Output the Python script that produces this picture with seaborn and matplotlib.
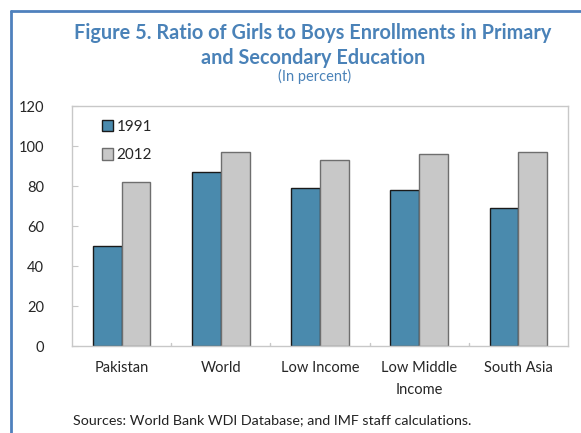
import pandas as pd
import numpy as np
import matplotlib
matplotlib.use("Agg")
import matplotlib.pyplot as plt
import seaborn as sns
from matplotlib.lines import Line2D
from matplotlib.patches import Patch

# data
regions = ["Pakistan", "World", "Low Income", "Low Middle\nIncome", "South Asia"]
ratio_1991 = [50, 87, 79, 78, 69]
ratio_2012 = [82, 97, 93, 96, 97]
years = ["1991", "2012"]
y_ticks = [0, 20, 40, 60, 80, 100, 120]

blue = "#4a8aad"
grey = "#c8c8c8"
title_col = "#4a82b8"

df = pd.DataFrame({
    "region": regions * 2,
    "year": [years[0]] * len(regions) + [years[1]] * len(regions),
    "ratio": ratio_1991 + ratio_2012,
})

sns.set_style("white")
plt.rcParams["font.family"] = ["Lato", "DejaVu Sans"]

fig = plt.figure(figsize=(5.81, 4.33), dpi=100)
ax = fig.add_axes([72 / 581, 1 - 346 / 433, 496 / 581, 240 / 433])

sns.barplot(data=df, x="region", y="ratio", hue="year", order=regions,
            hue_order=years, palette=[blue, grey], width=0.58,
            saturation=1, ax=ax, legend=False)

# edge colours: dark for 1991, mid grey for 2012
for i, bar in enumerate(ax.patches):
    if i < len(regions):
        bar.set_edgecolor("#1a1a1a")
    else:
        bar.set_edgecolor("#6e6e6e")
    bar.set_linewidth(1.0)

ax.set_ylim(0, 120)
ax.set_xlim(-0.5, len(regions) - 0.5)
ax.set_yticks(y_ticks)
ax.set_xlabel("")
ax.set_ylabel("")
for s in ax.spines.values():
    s.set_color("#c8c8c8")
    s.set_linewidth(1.0)

ax.tick_params(axis="y", direction="in", length=4, color="#c8c8c8",
               labelsize=10.5, pad=20, left=True)
ax.set_yticklabels([str(v) for v in y_ticks], ha="right")
ax.tick_params(axis="x", length=0, labelsize=10.5, pad=11)
for lab in ax.get_xticklabels():
    lab.set_linespacing(1.7)
# small upward tick marks between categories
for xb in np.arange(0.5, len(regions) - 0.5, 1):
    ax.add_line(Line2D([xb, xb], [0, 1.6], color="#c8c8c8", lw=1.0))

handles = [Patch(facecolor=blue, edgecolor="#1a1a1a", label=years[0]),
           Patch(facecolor=grey, edgecolor="#6e6e6e", label=years[1])]
ax.legend(handles=handles, loc="upper left", bbox_to_anchor=(0.048, 0.968),
          frameon=False, fontsize=11, handlelength=0.75, handleheight=0.75,
          handletextpad=0.2, labelspacing=0.95, borderaxespad=0)

fig.text(0.539, 0.895, "Figure 5. Ratio of Girls to Boys Enrollments in Primary\nand Secondary Education",
         ha="center", va="center", fontsize=14.3, fontweight="bold",
         color=title_col, linespacing=1.27)
fig.text(0.542, 0.823, "(In percent)", ha="center", va="center",
         fontsize=10.5, color=title_col)
fig.text(73 / 581, 1 - 420 / 433, "Sources: World Bank WDI Database; and IMF staff calculations.",
         ha="left", va="center", fontsize=10.3, color="#222222")

# figure frame (left and top edges visible)
fig.add_artist(Line2D([11 / 581, 11 / 581], [0, 1 - 11 / 433],
                      color="#4f81bd", lw=2))
fig.add_artist(Line2D([11 / 581, 1], [1 - 11 / 433, 1 - 11 / 433],
                      color="#4f81bd", lw=2))

fig.savefig("out.png", dpi=100)
